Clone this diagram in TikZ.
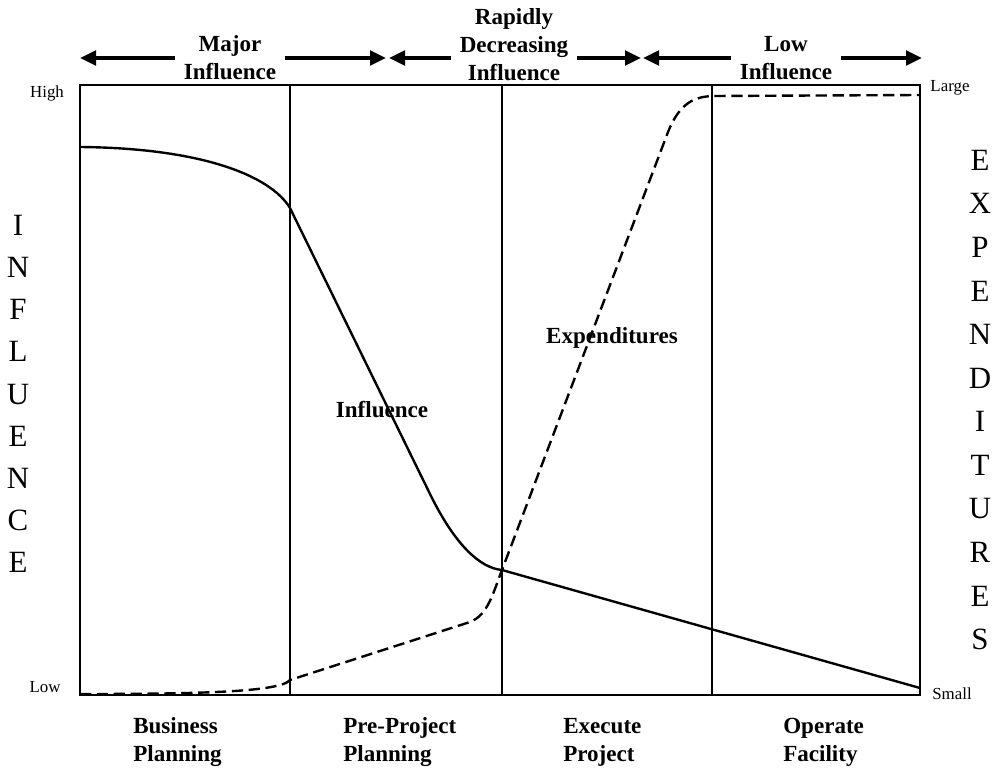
\documentclass[tikz,border=0pt]{standalone}
\usepackage{fontspec}
\setmainfont{Liberation Serif}
\usetikzlibrary{arrows.meta,positioning}

\begin{document}
\begin{tikzpicture}[x=0.025cm,y=-0.025cm,>={Triangle[length=4mm,width=3.6mm]},
 lbl/.style={font=\bfseries\fontsize{16.4}{20}\selectfont,align=center,inner xsep=6pt,inner ysep=0pt},
 phase/.style={font=\bfseries\fontsize{16.4}{20}\selectfont,align=left,anchor=west,inner sep=0pt},
 tick/.style={font=\fontsize{12}{14}\selectfont,inner sep=0pt},
 big/.style={font=\fontsize{22}{30}\selectfont,align=center,inner sep=0pt},
 frame/.style={line width=1.5pt},
 bigarrow/.style={line width=2.6pt,->},
 curve/.style={line width=1.7pt},
 spend/.style={line width=1.7pt,dash pattern=on 8pt off 4pt}]
\useasboundingbox (0,0) rectangle (997,776);
% header with influence ranges
\node[lbl] (major) at (230,58) {Major\\Influence};
\node[lbl] (rapid) at (514,45) {Rapidly\\Decreasing\\Influence};
\node[lbl] (low) at (786,58) {Low\\Influence};
\coordinate (tipA) at (80,58); \coordinate (tipB) at (386,58);
\coordinate (tipC) at (389,58); \coordinate (tipD) at (641,58);
\coordinate (tipE) at (643,58); \coordinate (tipF) at (922,58);
\draw[bigarrow] (major.west |- tipA)--(tipA); \draw[bigarrow] (major.east |- tipB)--(tipB);
\draw[bigarrow] (rapid.west |- tipC)--(tipC); \draw[bigarrow] (rapid.east |- tipD)--(tipD);
\draw[bigarrow] (low.west |- tipE)--(tipE); \draw[bigarrow] (low.east |- tipF)--(tipF);
% frame and phases
\draw[frame] (80,85) rectangle (920,695);
\foreach \x in {290,502,712} \draw[frame] (\x,85)--(\x,695);
\node[tick] (high) at (47,93) {High};
\node[tick] (lowtick) at (45,687) {Low};
\node[tick] (large) at (950,88) {Large};
\node[tick] (small) at (952,694) {Small};
\node[big] (infl) at (18,394) {I\\N\\F\\L\\U\\E\\N\\C\\E};
\node[big,font=\fontsize{22}{31}\selectfont] (expd) at (980,400) {E\\X\\P\\E\\N\\D\\I\\T\\U\\R\\E\\S};
\node[phase] (busi) at (133,742) {Business\\Planning};
\node[phase] (prep) at (343,742) {Pre-Project\\Planning};
\node[phase] (exec) at (563,742) {Execute\\Project};
\node[phase] (oper) at (783,742) {Operate\\Facility};
% curves
\draw[curve] (80,147) .. controls (200,148) and (270,175) .. (290,208)--(430,494)
 .. controls (455,545) and (480,568) .. (502,570)--(920,688);
\draw[spend] (80,694) .. controls (200,694) and (280,692) .. (290,680)--(470,622)
 .. controls (488,615) and (493,593) .. (502,570)--(668,132)
 .. controls (680,102) and (695,97) .. (712,96)--(920,95);
\node[lbl] (inflbl) at (382,410) {Influence};
\node[lbl] (explbl) at (612,338) {Expenditures};
\end{tikzpicture}
\end{document}
